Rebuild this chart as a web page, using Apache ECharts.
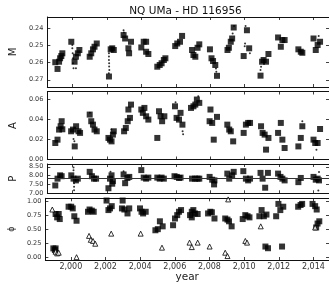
<!DOCTYPE html>
<html>
<head>
<meta charset="utf-8">
<script src="https://cdn.jsdelivr.net/npm/echarts@6/dist/echarts.min.js"></script>
<style>
  html, body { margin: 0; padding: 0; background: #fff; }
  #chart { width: 329px; height: 284px; }
</style>
</head>
<body>
<div id="chart"></div>
<script>
// year ticks shared by all panels
const yearTicks = [2000, 2002, 2004, 2006, 2008, 2010, 2012, 2014];

// M : [year, value] (seasonal squares and individual dots)
const mSquares = [
  [1998.99, 0.2598], [1999.12, 0.2637], [1999.21, 0.2595], [1999.27, 0.2575], [1999.34, 0.2562], [1999.40, 0.2546],
  [1999.92, 0.2479], [2000.11, 0.2595], [2000.19, 0.2566], [2000.30, 0.2546], [2000.39, 0.2527],
  [2000.99, 0.2566], [2001.08, 0.2546], [2001.18, 0.2523], [2001.27, 0.2508], [2001.40, 0.2489],
  [2002.11, 0.2681], [2002.21, 0.2523], [2002.30, 0.2517], [2002.39, 0.2527],
  [2002.96, 0.2440], [2003.05, 0.2460], [2003.24, 0.2517], [2003.28, 0.2546], [2003.39, 0.2479],
  [2003.99, 0.2512], [2004.13, 0.2479], [2004.27, 0.2479], [2004.27, 0.2537], [2004.40, 0.2550],
  [2004.92, 0.2624], [2005.06, 0.2614], [2005.17, 0.2604], [2005.30, 0.2585], [2005.39, 0.2575],
  [2005.96, 0.2504], [2006.08, 0.2489], [2006.24, 0.2479], [2006.36, 0.2445],
  [2006.94, 0.2527], [2007.02, 0.2556], [2007.13, 0.2566], [2007.26, 0.2514], [2007.36, 0.2494],
  [2007.98, 0.2523], [2008.07, 0.2575], [2008.16, 0.2591], [2008.29, 0.2614], [2008.39, 0.2677],
  [2009.00, 0.2527], [2009.08, 0.2514], [2009.19, 0.2479], [2009.27, 0.2460], [2009.36, 0.2396],
  [2009.94, 0.2562], [2010.13, 0.2412], [2010.26, 0.2517],
  [2010.92, 0.2676], [2011.01, 0.2595], [2011.10, 0.2585], [2011.24, 0.2595], [2011.38, 0.2550],
  [2011.94, 0.2454], [2012.10, 0.2508], [2012.19, 0.2469], [2012.32, 0.2469],
  [2013.12, 0.2523], [2013.26, 0.2537], [2013.35, 0.2543],
  [2014.00, 0.2460], [2014.13, 0.2527], [2014.24, 0.2498], [2014.38, 0.2479]
];
const mDots = [
  [1999.98, 0.2498], [1999.98, 0.2517], [2000.00, 0.2546], [2000.02, 0.2575], [2000.02, 0.2604], [2000.05, 0.2633],
  [2000.19, 0.2633],
  [2002.11, 0.2546], [2002.11, 0.2565], [2002.11, 0.2585], [2002.12, 0.2604], [2002.12, 0.2623], [2002.13, 0.2643], [2002.10, 0.2662],
  [2002.96, 0.2412], [2002.98, 0.2425],
  [2008.33, 0.2635], [2008.35, 0.2653],
  [2009.30, 0.2431], [2009.38, 0.2388],
  [2010.05, 0.2388], [2010.02, 0.2489], [2010.00, 0.2505], [2010.30, 0.2546],
  [2010.92, 0.2643], [2010.95, 0.2624],
  [2014.30, 0.2445]
];

// A
const aSquares = [
  [1998.99, 0.0164], [1999.12, 0.0197], [1999.21, 0.0297], [1999.30, 0.0330], [1999.36, 0.0380], [1999.40, 0.0300],
  [1999.91, 0.0280], [2000.02, 0.0297], [2000.12, 0.0130], [2000.20, 0.0330], [2000.34, 0.0280], [2000.43, 0.0264],
  [2000.99, 0.0446], [2001.08, 0.0380], [2001.18, 0.0346], [2001.27, 0.0297], [2001.40, 0.0280],
  [2002.08, 0.0214], [2002.17, 0.0197], [2002.26, 0.0180], [2002.34, 0.0247], [2002.39, 0.0280],
  [2002.99, 0.0280], [2003.09, 0.0313], [2003.20, 0.0380], [2003.24, 0.0496], [2003.39, 0.0545], [2003.33, 0.0413],
  [2003.99, 0.0496], [2004.08, 0.0463], [2004.17, 0.0512], [2004.27, 0.0429], [2004.40, 0.0396],
  [2004.92, 0.0214], [2005.02, 0.0479], [2005.11, 0.0429], [2005.20, 0.0380], [2005.33, 0.0429],
  [2005.95, 0.0528], [2006.04, 0.0413], [2006.18, 0.0396], [2006.27, 0.0463], [2006.38, 0.0346],
  [2006.88, 0.0512], [2007.02, 0.0528], [2007.13, 0.0545], [2007.22, 0.0595], [2007.36, 0.0562],
  [2008.01, 0.0496], [2007.96, 0.0380], [2008.11, 0.0363], [2008.20, 0.0197], [2008.39, 0.0423],
  [2008.99, 0.0346], [2009.10, 0.0297], [2009.19, 0.0280], [2009.33, 0.0180],
  [2009.94, 0.0264], [2010.07, 0.0346], [2010.20, 0.0363], [2010.31, 0.0363],
  [2010.95, 0.0330], [2011.04, 0.0264], [2011.16, 0.0247], [2011.24, 0.0098], [2011.38, 0.0214],
  [2011.94, 0.0264], [2012.10, 0.0363], [2012.19, 0.0197], [2012.32, 0.0114],
  [2013.12, 0.0130], [2013.26, 0.0214], [2013.35, 0.0330],
  [2014.00, 0.0197], [2014.10, 0.0164], [2014.24, 0.0164], [2014.38, 0.0303]
];
const aDots = [
  [2000.05, 0.0204], [2000.10, 0.0180],
  [2001.00, 0.0463], [2002.25, 0.0297],
  [2005.98, 0.0568], [2006.42, 0.0250], [2006.39, 0.0280],
  [2007.30, 0.0628],
  [2013.35, 0.0380], [2014.17, 0.0098]
];

// P
const pSquares = [
  [1998.99, 7.43], [1999.12, 7.82], [1999.27, 8.01], [1999.36, 7.96],
  [1999.92, 8.01], [2000.05, 7.82], [2000.19, 7.72], [2000.30, 7.82],
  [2000.99, 8.21], [2001.12, 7.96], [2001.24, 7.82], [2001.36, 7.82],
  [2002.08, 7.27], [2002.17, 7.82], [2002.26, 8.01], [2002.34, 7.68], [2002.30, 7.53],
  [2002.96, 8.06], [2003.05, 7.56], [2003.18, 7.86], [2003.29, 7.92],
  [2003.99, 8.31], [2004.13, 7.88], [2004.27, 7.82], [2004.40, 7.88],
  [2004.92, 7.88], [2005.06, 7.82], [2005.17, 7.88], [2005.30, 7.82],
  [2005.92, 7.96], [2006.05, 7.92], [2006.18, 7.86], [2006.27, 7.88],
  [2006.94, 7.82], [2007.11, 7.82], [2007.26, 7.82], [2007.36, 7.82],
  [2007.96, 7.92], [2008.11, 7.76], [2008.24, 7.72], [2008.22, 7.49],
  [2008.99, 8.11], [2009.10, 7.82], [2009.27, 8.01], [2009.36, 8.21],
  [2009.92, 8.25], [2010.07, 7.82], [2010.20, 7.72], [2010.31, 7.82],
  [2010.92, 8.15], [2011.04, 7.82], [2011.19, 7.30], [2011.35, 8.15],
  [2011.94, 8.11], [2012.08, 7.92], [2012.19, 7.82], [2012.32, 7.72],
  [2013.12, 7.62], [2013.26, 7.86],
  [2014.00, 7.92], [2014.13, 7.76], [2014.24, 7.82], [2014.32, 7.72]
];
const pDots = [
  [2000.05, 8.46], [2000.05, 8.30], [2000.08, 7.55], [2000.08, 7.35], [2000.08, 7.15],
  [2002.20, 8.21], [2002.96, 8.25], [2008.30, 7.60],
  [2014.28, 7.14], [2014.32, 8.20]
];
const pMean = 7.85;

// phi
const phiSquares = [
  [1998.99, 0.157], [1999.12, 0.157], [1999.08, 0.127],
  [1999.12, 0.77], [1999.21, 0.71], [1999.30, 0.77], [1999.36, 0.68],
  [1999.87, 0.90], [2000.02, 0.90], [2000.11, 0.87], [2000.20, 0.73], [2000.33, 0.65],
  [2000.99, 0.81], [2001.08, 0.85], [2001.21, 0.83], [2001.32, 0.81],
  [2002.06, 1.01], [2002.17, 0.84], [2002.26, 0.87], [2002.36, 0.91],
  [2002.99, 1.01], [2002.95, 0.87], [2003.09, 0.85], [2003.27, 0.78], [2003.37, 0.87],
  [2003.99, 0.87], [2004.08, 0.81], [2004.17, 0.78], [2004.32, 0.81],
  [2004.88, 0.48], [2005.02, 0.50], [2005.14, 0.64], [2005.30, 0.55],
  [2005.90, 0.57], [2006.01, 0.69], [2006.14, 0.75], [2006.24, 0.81], [2006.36, 0.84],
  [2006.88, 0.75], [2006.98, 0.81], [2007.07, 0.84], [2007.16, 0.78], [2007.32, 0.77], [2006.98, 0.71],
  [2007.92, 0.78], [2008.05, 0.81], [2008.14, 0.80], [2008.29, 0.69],
  [2008.91, 0.69], [2009.04, 0.67], [2009.13, 0.64], [2009.28, 0.55],
  [2009.92, 0.68], [2010.07, 0.75], [2010.20, 0.73], [2010.31, 0.71],
  [2010.88, 0.73], [2011.01, 0.84], [2011.14, 0.73], [2011.29, 0.76], [2011.23, 0.19], [2011.38, 0.16],
  [2011.85, 0.73], [2011.98, 0.95], [2012.09, 0.84], [2012.26, 0.90], [2012.19, 0.19],
  [2013.12, 0.90], [2013.26, 0.93], [2013.35, 0.95],
  [2013.95, 0.95], [2014.10, 0.91], [2014.19, 0.85], [2014.24, 0.60], [2014.34, 0.64], [2014.16, 0.53]
];
const phiTriangles = [
  [1998.93, 0.85], [1999.12, 0.097], [1999.21, 0.068], [1999.30, 0.08],
  [2000.33, 0.00],
  [2001.05, 0.38], [2001.15, 0.31], [2001.28, 0.29], [2001.41, 0.24],
  [2002.33, 0.42],
  [2004.03, 0.42],
  [2005.26, 0.17],
  [2006.85, 0.26], [2006.98, 0.18], [2007.32, 0.26],
  [2008.01, 0.19],
  [2008.91, 0.08], [2009.04, 0.02], [2009.08, 1.03],
  [2010.07, 0.29], [2010.17, 0.26],
  [2010.96, 0.55],
  [2014.10, 0.53]
];

const panels = [
  { top: 17, height: 70, min: 0.2335, max: 0.2742, inverse: true, ticks: [0.24, 0.25, 0.26, 0.27], name: 'M' },
  { top: 91.5, height: 68, min: 0, max: 0.0675, ticks: [0, 0.02, 0.04, 0.06], name: 'A' },
  { top: 164, height: 29.3, min: 6.98, max: 8.66, ticks: [7.0, 7.5, 8.0, 8.5], name: 'P' },
  { top: 198.3, height: 61.7, min: -0.05, max: 1.05, ticks: [0, 0.25, 0.5, 0.75, 1.0], name: 'ϕ' }
];

const xMin = 1998.53, xMax = 2014.9;
const lineStyle = { color: '#111', width: 1 };
const tickStyle = { show: true, inside: true, length: 3, lineStyle: { color: '#111', width: 0.8 } };

const grid = [], xAxis = [], yAxis = [];
panels.forEach((p, i) => {
  grid.push({ left: 39.5, width: 291.5, top: p.top, height: p.height });
  const last = i === panels.length - 1;
  xAxis.push({
    type: 'value', gridIndex: i, min: xMin, max: xMax, position: 'bottom',
    axisLine: { onZero: false, lineStyle },
    axisTick: Object.assign({ customValues: yearTicks }, tickStyle),
    axisLabel: { show: last, customValues: yearTicks, margin: 3, fontSize: 8, color: '#333', fontFamily: 'DejaVu Sans' },
    splitLine: { show: false },
    name: last ? 'year' : '', nameLocation: 'middle', nameGap: 12,
    nameTextStyle: { fontSize: 10.5, color: '#222', fontFamily: 'DejaVu Sans' }
  });
  xAxis.push({
    type: 'value', gridIndex: i, min: xMin, max: xMax, position: 'top',
    axisLine: { onZero: false, lineStyle },
    axisTick: Object.assign({ customValues: yearTicks }, tickStyle),
    axisLabel: { show: false }, splitLine: { show: false }
  });
  yAxis.push({
    type: 'value', gridIndex: i, min: p.min, max: p.max, inverse: !!p.inverse, position: 'left',
    axisLine: { onZero: false, lineStyle },
    axisTick: Object.assign({ customValues: p.ticks }, tickStyle),
    axisLabel: { customValues: p.ticks, margin: 4, fontSize: 6.5, color: '#333', fontFamily: 'DejaVu Sans',
      formatter: v => v.toFixed(2) },
    splitLine: { show: false },
    name: p.name, nameLocation: 'middle', nameGap: 22, nameRotate: 90,
    nameTextStyle: { fontSize: p.name === 'ϕ' ? 8 : 10, color: '#222', fontFamily: 'DejaVu Sans' }
  });
  yAxis.push({
    type: 'value', gridIndex: i, min: p.min, max: p.max, inverse: !!p.inverse, position: 'right',
    axisLine: { onZero: false, lineStyle },
    axisTick: Object.assign({ customValues: p.ticks }, tickStyle),
    axisLabel: { show: false }, splitLine: { show: false }
  });
});

function squares(data, i) {
  return { type: 'scatter', xAxisIndex: i * 2, yAxisIndex: i * 2, data, symbol: 'rect', symbolSize: 6,
    itemStyle: { color: '#000' }, silent: true };
}
function dots(data, i) {
  return { type: 'scatter', xAxisIndex: i * 2, yAxisIndex: i * 2, data, symbol: 'circle', symbolSize: 2,
    itemStyle: { color: '#000' }, silent: true };
}

const series = [
  squares(mSquares, 0), dots(mDots, 0),
  squares(aSquares, 1), dots(aDots, 1),
  Object.assign(squares(pSquares, 2), {
    markLine: { silent: true, symbol: 'none', label: { show: false },
      lineStyle: { color: '#333', width: 1.2, type: 'solid' }, data: [{ yAxis: pMean }] }
  }),
  dots(pDots, 2),
  squares(phiSquares, 3),
  { type: 'scatter', xAxisIndex: 6, yAxisIndex: 6, data: phiTriangles, symbol: 'triangle', symbolSize: 5,
    itemStyle: { color: '#fff', borderColor: '#000', borderWidth: 1 }, silent: true }
];

const chart = echarts.init(document.getElementById('chart'), null, { renderer: 'canvas' });
chart.setOption({
  animation: false,
  title: {
    text: 'NQ UMa - HD 116956', left: 185.5, top: 6, padding: 0, textAlign: 'center',
    textStyle: { fontSize: 10.5, fontWeight: 'normal', color: '#111', fontFamily: 'DejaVu Sans' }
  },
  grid, xAxis, yAxis, series
});
</script>
</body>
</html>
